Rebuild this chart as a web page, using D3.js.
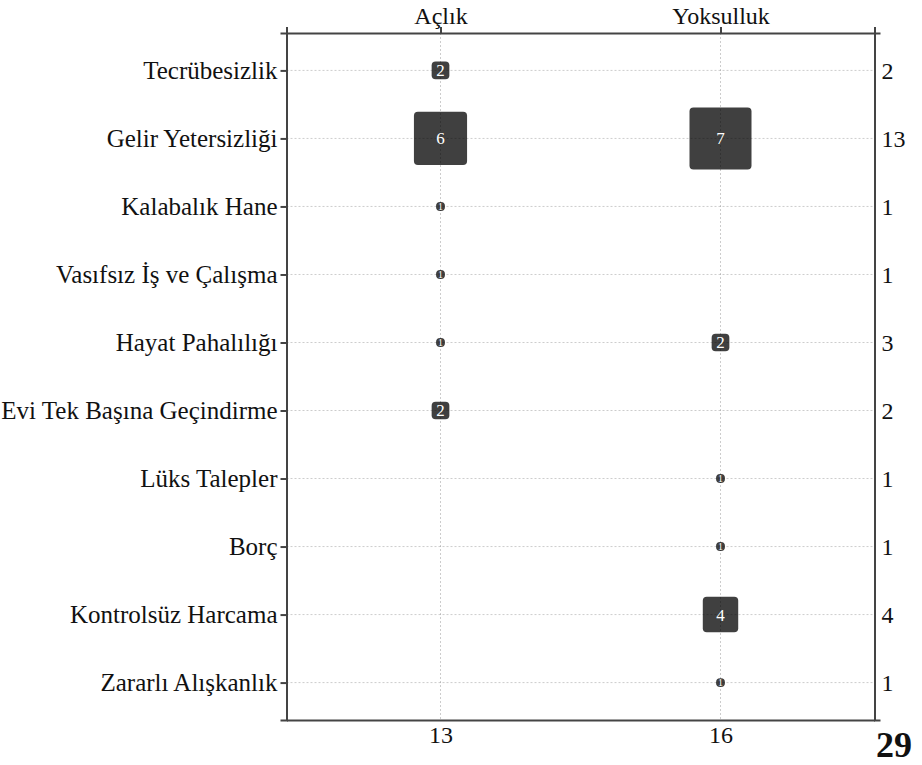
<!DOCTYPE html>
<html><head><meta charset="utf-8">
<script src="https://cdn.jsdelivr.net/npm/d3@7"></script>
<style>
body{margin:0;background:#fff;}
text{font-family:"Liberation Serif","Times New Roman",serif;}
</style></head>
<body><svg id="c" width="922" height="765"></svg>
<script>
const rows = ["Tecrübesizlik","Gelir Yetersizliği","Kalabalık Hane","Vasıfsız İş ve Çalışma","Hayat Pahalılığı","Evi Tek Başına Geçindirme","Lüks Talepler","Borç","Kontrolsüz Harcama","Zararlı Alışkanlık"];
const cols = ["Açlık","Yoksulluk"];
const aclik =     [2,6,1,1,1,2,0,0,0,0];
const yoksulluk = [0,7,0,0,2,0,1,1,4,1];
const rowTotals = [2,13,1,1,3,2,1,1,4,1];
const colTotals = [13,16];
const grandTotal = 29;

const seriesVals = [aclik, yoksulluk];
const cells = [];
cols.forEach((c,j)=>rows.forEach((r,i)=>{ if(seriesVals[j][i]>0) cells.push({row:r,col:c,v:seriesVals[j][i]}); }));

const L=286.5,R=874.5,T=33,B=720;
const svg = d3.select("#c");
const x = d3.scalePoint().domain(cols).range([L,R]).padding(0.55);
const y = d3.scalePoint().domain(rows).range([T,B]).padding(0.55);
const side = d3.scaleLinear().domain([0,7]).range([0,62]);

const axisColor="#444";
const g = svg.append("g");
g.selectAll("rect").data(cells).enter().append("rect")
  .attr("x",d=>x(d.col)-side(d.v)/2).attr("y",d=>y(d.row)-side(d.v)/2)
  .attr("width",d=>side(d.v)).attr("height",d=>side(d.v))
  .attr("rx",d=>Math.min(4,side(d.v)/2)).attr("fill","#404040");

const grid = svg.append("g").attr("stroke","rgba(0,0,0,0.2)").attr("stroke-dasharray","2,2").attr("stroke-width",1);
grid.selectAll("line.h").data(rows).enter().append("line")
  .attr("x1",L).attr("x2",R).attr("y1",d=>y(d)).attr("y2",d=>y(d));
grid.selectAll("line.v").data(cols).enter().append("line")
  .attr("y1",T).attr("y2",B).attr("x1",d=>x(d)).attr("x2",d=>x(d));

const lab = svg.append("g");
lab.selectAll("text").data(cells).enter().append("text")
  .attr("x",d=>x(d.col)).attr("y",d=>y(d.row)).attr("dy","0.35em")
  .attr("text-anchor","middle").attr("fill","#fff")
  .attr("font-size",d=>Math.min(17,side(d.v)+1))
  .text(d=>d.v);

function styleAxis(fs){
  return sel=>{
    sel.selectAll("path,line").attr("stroke",axisColor).attr("stroke-width",2);
    sel.selectAll("text").attr("fill","#111").attr("font-size",fs);
  };
}
svg.append("g").attr("transform",`translate(${L},0)`)
  .call(d3.axisLeft(y).tickSize(6).tickSizeOuter(6).tickPadding(3)).call(styleAxis(25));
svg.append("g").attr("transform",`translate(0,${T})`)
  .call(d3.axisTop(x).tickSize(6).tickSizeOuter(6).tickPadding(3)).call(styleAxis(24));
svg.append("g").attr("transform",`translate(${R},0)`)
  .call(d3.axisRight(y).tickSize(0).tickSizeOuter(6).tickPadding(7).tickFormat((d,i)=>rowTotals[i])).call(styleAxis(24));
svg.append("g").attr("transform",`translate(0,${B})`)
  .call(d3.axisBottom(x).tickSize(0).tickSizeOuter(0).tickPadding(6).tickFormat((d,i)=>colTotals[i])).call(styleAxis(24));

svg.append("text").attr("x",876).attr("y",757).attr("font-size",36).attr("font-weight","bold")
  .attr("fill","#111").text(grandTotal);
</script></body></html>
